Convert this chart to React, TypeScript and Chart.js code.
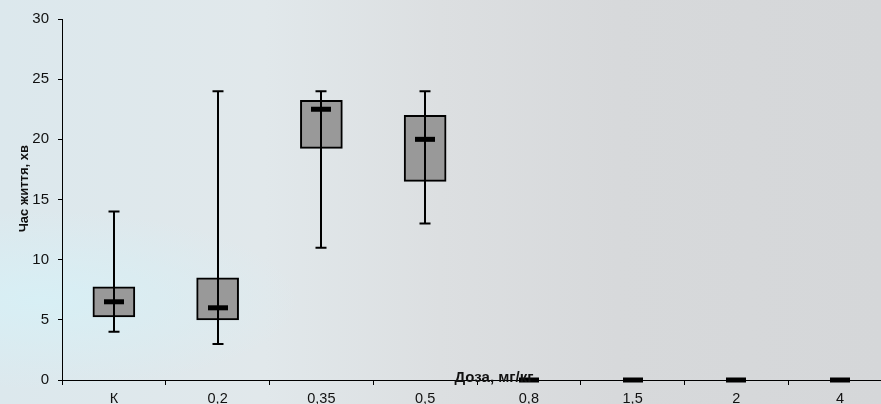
import React, { useEffect, useRef } from "react";
import { Chart, registerables } from "chart.js";

Chart.register(...registerables);

const categories = ["К", "0,2", "0,35", "0,5", "0,8", "1,5", "2", "4"];
const whiskerLow = [4, 3, 11, 13, null, null, null, null];
const q1 = [5.25, 5, 19.25, 16.5, null, null, null, null];
const q3 = [7.75, 8.5, 23.25, 22, null, null, null, null];
const medians = [6.5, 6, 22.5, 20, 0, 0, 0, 0];
const whiskerHigh = [14, 24, 24, 24, null, null, null, null];
const yTitle = "Час життя, хв";
const xTitle = "Доза, мг/кг";

const FONT = "'Liberation Sans', Arial, sans-serif";

const boxExtras = {
  id: "boxExtras",
  afterDatasetsDraw(chart: any) {
    const ctx = chart.ctx;
    const xs = chart.scales.x;
    const ys = chart.scales.y;
    ctx.save();
    ctx.strokeStyle = "#000";
    ctx.fillStyle = "#000";
    ctx.lineWidth = 2;
    categories.forEach((_, i) => {
      const cx = Math.round(xs.getPixelForValue(i));
      const lo = whiskerLow[i];
      const hi = whiskerHigh[i];
      if (lo != null && hi != null) {
        const yl = ys.getPixelForValue(lo);
        const yh = ys.getPixelForValue(hi);
        ctx.beginPath();
        ctx.moveTo(cx, yl);
        ctx.lineTo(cx, yh);
        ctx.moveTo(cx - 5.5, yl);
        ctx.lineTo(cx + 5.5, yl);
        ctx.moveTo(cx - 5.5, yh);
        ctx.lineTo(cx + 5.5, yh);
        ctx.stroke();
      }
      const m = medians[i];
      if (m != null) {
        const ym = ys.getPixelForValue(m);
        ctx.fillRect(cx - 10, ym - 2.5, 20, 5);
      }
    });
    ctx.restore();
  },
  afterDraw(chart: any) {
    const ctx = chart.ctx;
    const a = chart.chartArea;
    ctx.save();
    ctx.fillStyle = "#111";
    ctx.font = `bold 13px ${FONT}`;
    ctx.textAlign = "center";
    ctx.textBaseline = "middle";
    ctx.translate(a.left - 38, a.top + (a.bottom - a.top) * 0.47);
    ctx.rotate(-Math.PI / 2);
    ctx.fillText(yTitle, 0, 0);
    ctx.restore();
    ctx.save();
    ctx.fillStyle = "#111";
    ctx.font = `bold 15px ${FONT}`;
    ctx.textAlign = "center";
    ctx.textBaseline = "middle";
    ctx.fillText(xTitle, a.left + 432, a.bottom - 2);
    ctx.restore();
  },
};

export default function App() {
  const ref = useRef<HTMLCanvasElement | null>(null);
  useEffect(() => {
    if (!ref.current) return;
    const chart = new Chart(ref.current, {
      type: "bar",
      data: {
        labels: categories,
        datasets: [
          {
            data: q1.map((v, i) => (v != null && q3[i] != null ? [v, q3[i] as number] : null)) as any,
            backgroundColor: "#999999",
            borderColor: "#000",
            borderWidth: 2,
            borderSkipped: false,
            barThickness: 42,
          },
        ],
      },
      options: {
        animation: false,
        responsive: false,
        devicePixelRatio: 1,
        layout: { padding: { top: 19, left: 0, right: 0, bottom: 0 } },
        plugins: { legend: { display: false }, tooltip: { enabled: false }, title: { display: false } },
        scales: {
          x: {
            type: "category",
            offset: true,
            grid: { offset: true, drawOnChartArea: false, drawTicks: true, tickLength: 5, color: "#000" },
            border: { display: true, color: "#000", width: 1 },
            ticks: { color: "#111", font: { family: FONT, size: 14.5 }, padding: 5, maxRotation: 0, autoSkip: false },
            afterFit: (s: any) => { s.height = 24; },
          },
          y: {
            min: 0,
            max: 30,
            grid: { drawOnChartArea: false, drawTicks: true, tickLength: 4, color: "#000" },
            border: { display: true, color: "#000", width: 1 },
            ticks: { stepSize: 5, color: "#111", font: { family: FONT, size: 15 }, padding: 9 },
            afterFit: (s: any) => { s.width = 62; },
          },
        },
      },
      plugins: [boxExtras],
    });
    return () => chart.destroy();
  }, []);
  return (
    <div
      style={{
        position: "fixed",
        left: 0,
        top: 0,
        width: 881,
        height: 404,
        overflow: "hidden",
        background:
          "radial-gradient(ellipse 260px 90px at 40px 300px, rgba(215,240,246,0.9), rgba(215,240,246,0) 100%), linear-gradient(90deg, #dce8ed 0%, #e1e8eb 30%, #dcdfe1 50%, #d7d9db 70%, #d5d7d9 100%)",
      }}
    >
      <canvas ref={ref} width={892} height={404} style={{ display: "block", width: 892, height: 404 }} />
    </div>
  );
}
